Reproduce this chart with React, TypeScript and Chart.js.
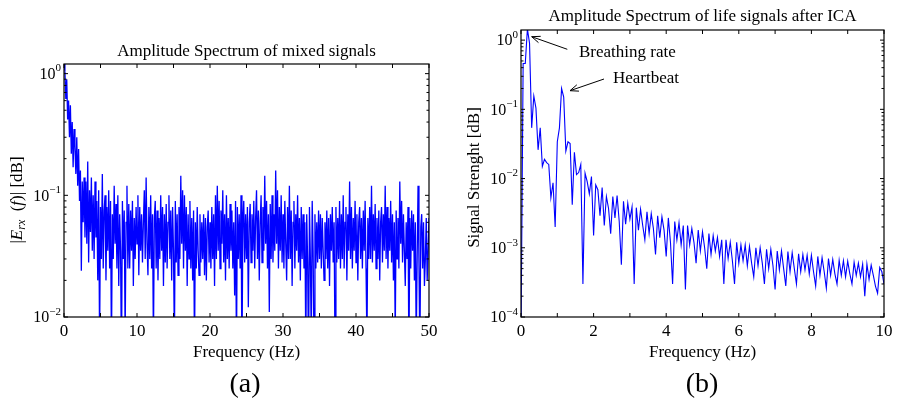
import React, { useEffect, useRef } from "react";
import { Chart, registerables } from "chart.js";

Chart.register(...registerables);

const FONT = '"Liberation Serif", "Times New Roman", Times, serif';

// ---------------- Panel (a): mixed signals, 0..50 Hz ----------------
const mixedStepHz = 0.125;
const mixedAmplitude: number[] = [
  1.2, 1.05, 0.62, 0.9, 0.42, 0.6, 0.3, 0.55,
  0.22, 0.4, 0.17, 0.35, 0.25, 0.15, 0.3, 0.12,
  0.24, 0.09, 0.16, 0.024, 0.13, 0.06, 0.14, 0.045,
  0.13, 0.04, 0.19, 0.028, 0.11, 0.05, 0.14, 0.035,
  0.1, 0.03, 0.13, 0.045, 0.09, 0.02, 0.11, 0.006,
  0.08, 0.03, 0.15, 0.025, 0.075, 0.1, 0.02, 0.08,
  0.035, 0.11, 0.025, 0.09, 0.005, 0.07, 0.03, 0.12,
  0.04, 0.085, 0.025, 0.1, 0.018, 0.07, 0.035, 0.004,
  0.09, 0.03, 0.075, 0.007, 0.06, 0.12, 0.025, 0.085,
  0.025, 0.075, 0.035, 0.09, 0.018, 0.065, 0.03, 0.08,
  0.04, 0.1, 0.022, 0.08, 0.035, 0.07, 0.028, 0.06,
  0.11, 0.03, 0.14, 0.04, 0.022, 0.08, 0.03, 0.1,
  0.025, 0.07, 0.006, 0.065, 0.09, 0.025, 0.075, 0.02,
  0.065, 0.03, 0.1, 0.035, 0.08, 0.018, 0.07, 0.028,
  0.085, 0.025, 0.06, 0.1, 0.03, 0.075, 0.02, 0.08,
  0.035, 0.006, 0.09, 0.028, 0.07, 0.022, 0.08, 0.03,
  0.145, 0.04, 0.11, 0.025, 0.1, 0.035, 0.08, 0.018,
  0.07, 0.03, 0.09, 0.025, 0.065, 0.02, 0.075, 0.005,
  0.06, 0.025, 0.08, 0.035, 0.022, 0.07, 0.028, 0.06,
  0.03, 0.07, 0.022, 0.065, 0.02, 0.055, 0.075, 0.028,
  0.06, 0.025, 0.08, 0.03, 0.07, 0.018, 0.1, 0.03,
  0.12, 0.035, 0.09, 0.025, 0.075, 0.04, 0.11, 0.028,
  0.07, 0.02, 0.1, 0.03, 0.065, 0.025, 0.085, 0.035,
  0.075, 0.025, 0.06, 0.015, 0.09, 0.005, 0.08, 0.03,
  0.07, 0.025, 0.1, 0.004, 0.06, 0.09, 0.028, 0.07,
  0.03, 0.08, 0.012, 0.06, 0.085, 0.028, 0.07, 0.035,
  0.09, 0.025, 0.065, 0.11, 0.03, 0.075, 0.02, 0.06,
  0.1, 0.028, 0.08, 0.035, 0.145, 0.04, 0.09, 0.025,
  0.07, 0.011, 0.085, 0.03, 0.1, 0.028, 0.07, 0.035,
  0.16, 0.04, 0.11, 0.025, 0.08, 0.035, 0.1, 0.028,
  0.07, 0.025, 0.09, 0.04, 0.02, 0.08, 0.03, 0.12,
  0.03, 0.075, 0.018, 0.06, 0.09, 0.025, 0.07, 0.035,
  0.1, 0.028, 0.065, 0.02, 0.08, 0.03, 0.07, 0.025,
  0.06, 0.005, 0.07, 0.028, 0.004, 0.08, 0.03, 0.006,
  0.09, 0.035, 0.005, 0.07, 0.025, 0.06, 0.028, 0.075,
  0.03, 0.07, 0.025, 0.065, 0.035, 0.02, 0.06, 0.03,
  0.075, 0.025, 0.065, 0.018, 0.07, 0.035, 0.08, 0.028,
  0.06, 0.005, 0.08, 0.028, 0.065, 0.03, 0.09, 0.025,
  0.07, 0.03, 0.1, 0.025, 0.06, 0.08, 0.02, 0.07,
  0.035, 0.13, 0.03, 0.08, 0.025, 0.065, 0.035, 0.09,
  0.028, 0.07, 0.02, 0.06, 0.08, 0.03, 0.065, 0.025,
  0.075, 0.035, 0.09, 0.025, 0.006, 0.065, 0.03, 0.08,
  0.03, 0.12, 0.028, 0.07, 0.035, 0.085, 0.025, 0.065,
  0.03, 0.075, 0.02, 0.06, 0.08, 0.028, 0.07, 0.035,
  0.12, 0.03, 0.08, 0.025, 0.065, 0.035, 0.09, 0.028,
  0.07, 0.02, 0.06, 0.007, 0.075, 0.03, 0.065, 0.025,
  0.13, 0.04, 0.09, 0.028, 0.07, 0.035, 0.018, 0.06,
  0.03, 0.08, 0.004, 0.065, 0.025, 0.075, 0.035, 0.07,
  0.02, 0.06, 0.006, 0.03, 0.12, 0.028, 0.005, 0.055,
  0.07, 0.025, 0.06, 0.018, 0.03, 0.065, 0.02, 0.035,
  0.065,
];
const mixedXTicks = [0, 5, 10, 15, 20, 25, 30, 35, 40, 45, 50];
const mixedXLabels = ["0", "10", "20", "30", "40", "50"];
const mixedYDecades = [-2, -1, 0];

// ---------------- Panel (b): life signals after ICA, 0..10 Hz ----------------
const icaStepHz = 1 / 17;
const icaAmplitude: number[] = [
  0.00005, 0.46, 0.46, 1.45, 0.9, 0.054, 0.156, 0.104, 0.026, 0.054,
  0.015, 0.019, 0.017, 0.016, 0.0053, 0.0087, 0.002, 0.034, 0.054, 0.2,
  0.15, 0.025, 0.034, 0.032, 0.0042, 0.024, 0.0114, 0.0122, 0.016, 0.0003,
  0.012, 0.009, 0.006, 0.0107, 0.0015, 0.0081, 0.0069, 0.0029, 0.0074, 0.0021,
  0.0055, 0.0037, 0.0016, 0.0055, 0.0027, 0.0057, 0.0024, 0.00057,
  0.0047, 0.0022, 0.0044, 0.0026, 0.0039, 0.0003, 0.0038, 0.0018, 0.0036, 0.0021,
  0.0013, 0.0033, 0.0016, 0.0031, 0.0019, 0.0008, 0.0029, 0.0014, 0.0028, 0.0018,
  0.00075, 0.0027, 0.0012, 0.0003, 0.0024, 0.0013, 0.0023, 0.0011, 0.0021, 0.00025,
  0.0021, 0.0011, 0.0019, 0.0012, 0.0006, 0.0018, 0.0009, 0.0017, 0.001, 0.0005,
  0.0016, 0.0008, 0.0015, 0.0009, 0.0014, 0.00075, 0.0013, 0.0003, 0.0013, 0.0007,
  0.0012, 0.00065, 0.0003, 0.0012, 0.0006, 0.0011, 0.00065, 0.0011, 0.00055, 0.00105,
  0.0006, 0.00038, 0.001, 0.00055, 0.001, 0.0006, 0.0003, 0.00095, 0.0005, 0.00095,
  0.00055, 0.00025, 0.0009, 0.00048, 0.0009, 0.0005, 0.00028, 0.00088, 0.00045, 0.00085,
  0.0005, 0.0003, 0.00082, 0.00045, 0.0008, 0.00048, 0.00078, 0.00042, 0.00078, 0.00045,
  0.00028, 0.00075, 0.0004, 0.00072, 0.00045, 0.00026, 0.0007, 0.0004, 0.00068, 0.00042,
  0.0003, 0.00066, 0.0004, 0.00065, 0.00038, 0.00064, 0.00042, 0.0003, 0.00062, 0.0004,
  0.0006, 0.00038, 0.00058, 0.0002, 0.00058, 0.00035, 0.00056, 0.0004, 0.00028, 0.00022,
  0.00052, 0.00045, 0.0003,
];
const icaXTicks = [0, 1, 2, 3, 4, 5, 6, 7, 8, 9, 10];
const icaXLabels = ["0", "2", "4", "6", "8", "10"];
const icaYDecades = [-4, -3, -2, -1, 0];

type Seg = { t: string; size: number; italic?: boolean; rise?: number };

function fontOf(s: Seg) {
  return `${s.italic ? "italic " : ""}${s.size}px ${FONT}`;
}

function drawRich(ctx: CanvasRenderingContext2D, segs: Seg[], x: number, y: number, align: "left" | "center" | "right") {
  const widths = segs.map((s) => {
    ctx.font = fontOf(s);
    return ctx.measureText(s.t).width;
  });
  const total = widths.reduce((a, b) => a + b, 0);
  let cx = align === "center" ? x - total / 2 : align === "right" ? x - total : x;
  ctx.textAlign = "left";
  ctx.textBaseline = "alphabetic";
  segs.forEach((s, i) => {
    ctx.font = fontOf(s);
    ctx.fillText(s.t, cx, y - (s.rise || 0));
    cx += widths[i];
  });
}

function drawArrow(ctx: CanvasRenderingContext2D, x1: number, y1: number, x2: number, y2: number) {
  ctx.beginPath();
  ctx.moveTo(x1, y1);
  ctx.lineTo(x2, y2);
  const ang = Math.atan2(y2 - y1, x2 - x1);
  const L = 9;
  const a = 0.38;
  ctx.moveTo(x2, y2);
  ctx.lineTo(x2 - L * Math.cos(ang - a), y2 - L * Math.sin(ang - a));
  ctx.moveTo(x2, y2);
  ctx.lineTo(x2 - L * Math.cos(ang + a), y2 - L * Math.sin(ang + a));
  ctx.stroke();
}

type Note = { text: string; x: number; y: number; ax1: number; ay1: number; ax2: number; ay2: number };

type Spec = {
  xTicks: number[];
  xLabels: string[];
  yDecades: number[];
  title: string;
  titleBaseline: number;
  yLabel: Seg[];
  yLabelX: number;
  yLabelY: number;
  panel: string;
  panelX: number;
  notes: Note[];
};

function makeDecor(spec: Spec) {
  return {
    id: "decor",
    afterDraw(chart: any) {
      const ctx: CanvasRenderingContext2D = chart.ctx;
      const { left, right, top, bottom } = chart.chartArea;
      const xs = chart.scales.x;
      const ys = chart.scales.y;
      ctx.save();
      ctx.strokeStyle = "#000";
      ctx.fillStyle = "#000";

      // frame
      ctx.lineWidth = 1.2;
      ctx.strokeRect(left, top, right - left, bottom - top);
      ctx.lineWidth = 1;

      // x ticks (inside, bottom and top)
      ctx.beginPath();
      spec.xTicks.forEach((t) => {
        const px = xs.getPixelForValue(t);
        ctx.moveTo(px, bottom);
        ctx.lineTo(px, bottom - 4);
        ctx.moveTo(px, top);
        ctx.lineTo(px, top + 4);
      });
      // y ticks (log, major+minor, left and right)
      const yMin = ys.min;
      const yMax = ys.max;
      spec.yDecades.forEach((d) => {
        for (let k = 1; k <= 9; k++) {
          const v = k * Math.pow(10, d);
          if (v < yMin * 0.999 || v > yMax * 1.001) continue;
          const py = ys.getPixelForValue(v);
          const len = k === 1 ? 4 : 2.5;
          ctx.moveTo(left, py);
          ctx.lineTo(left + len, py);
          ctx.moveTo(right, py);
          ctx.lineTo(right - len, py);
        }
      });
      ctx.stroke();

      // x tick labels
      spec.xLabels.forEach((lab) => {
        const px = xs.getPixelForValue(Number(lab));
        drawRich(ctx, [{ t: lab, size: 17 }], px, bottom + 19, "center");
      });
      // y tick labels 10^d
      spec.yDecades.forEach((d) => {
        const py = ys.getPixelForValue(Math.pow(10, d));
        const exp = d < 0 ? "\u2212" + String(-d) : String(d);
        drawRich(
          ctx,
          [
            { t: "10", size: 16 },
            { t: exp, size: 11, rise: 7.5 },
          ],
          left - 3,
          py + 5.3,
          "right"
        );
      });

      // title
      drawRich(ctx, [{ t: spec.title, size: 17 }], (left + right) / 2, spec.titleBaseline, "center");
      // x axis label
      drawRich(ctx, [{ t: "Frequency (Hz)", size: 17 }], (left + right) / 2, bottom + 40, "center");
      // y axis label
      ctx.save();
      ctx.translate(spec.yLabelX, spec.yLabelY);
      ctx.rotate(-Math.PI / 2);
      drawRich(ctx, spec.yLabel, 0, 0, "center");
      ctx.restore();
      // panel label
      drawRich(ctx, [{ t: spec.panel, size: 28 }], spec.panelX, 392, "center");

      // annotations
      spec.notes.forEach((n) => {
        drawRich(ctx, [{ t: n.text, size: 17 }], n.x, n.y, "left");
        drawArrow(ctx, n.ax1, n.ay1, n.ax2, n.ay2);
      });
      ctx.restore();
    },
  };
}

function buildChart(
  canvas: HTMLCanvasElement,
  values: number[],
  step: number,
  xMax: number,
  yMin: number,
  yMax: number,
  padding: { left: number; top: number; right: number; bottom: number },
  lineWidth: number,
  spec: Spec
) {
  return new Chart(canvas, {
    type: "line",
    data: {
      datasets: [
        {
          data: values.map((v, i) => ({ x: i * step, y: v })),
          borderColor: "#0000ff",
          borderWidth: lineWidth,
          pointRadius: 0,
          tension: 0,
          fill: false,
        },
      ],
    },
    options: {
      responsive: false,
      animation: false,
      devicePixelRatio: 1,
      events: [],
      layout: { padding },
      scales: {
        x: { type: "linear", display: false, min: 0, max: xMax },
        y: { type: "logarithmic", display: false, min: yMin, max: yMax },
      },
      plugins: {
        legend: { display: false },
        tooltip: { enabled: false },
        title: { display: false },
      },
    } as any,
    plugins: [makeDecor(spec)],
  });
}

export default function App() {
  const refA = useRef<HTMLCanvasElement | null>(null);
  const refB = useRef<HTMLCanvasElement | null>(null);

  useEffect(() => {
    if (!refA.current || !refB.current) return;
    const chartA = buildChart(
      refA.current,
      mixedAmplitude,
      mixedStepHz,
      50,
      0.01,
      1.2,
      { left: 64, top: 64, right: 19, bottom: 81 },
      1.3,
      {
        xTicks: mixedXTicks,
        xLabels: mixedXLabels,
        yDecades: mixedYDecades,
        title: "Amplitude Spectrum of mixed signals",
        titleBaseline: 56,
        yLabel: [
          { t: "|", size: 17 },
          { t: "E", size: 17, italic: true },
          { t: "rx", size: 12, italic: true, rise: -3 },
          { t: "  (", size: 17 },
          { t: "f", size: 17, italic: true },
          { t: ")| [dB]", size: 17 },
        ],
        yLabelX: 22,
        yLabelY: 200,
        panel: "(a)",
        panelX: 245,
        notes: [],
      }
    );
    const chartB = buildChart(
      refB.current,
      icaAmplitude,
      icaStepHz,
      10,
      0.0001,
      1.4,
      { left: 73, top: 30, right: 13, bottom: 81 },
      1.1,
      {
        xTicks: icaXTicks,
        xLabels: icaXLabels,
        yDecades: icaYDecades,
        title: "Amplitude Spectrum of life signals after ICA",
        titleBaseline: 21,
        yLabel: [{ t: "Signal Strenght [dB]", size: 17 }],
        yLabelX: 31,
        yLabelY: 177.5,
        panel: "(b)",
        panelX: 254,
        notes: [
          { text: "Breathing rate", x: 131, y: 57.3, ax1: 119.3, ay1: 49.3, ax2: 83.7, ay2: 36.7 },
          { text: "Heartbeat", x: 165, y: 83.3, ax1: 156, ay1: 79, ax2: 122, ay2: 90.7 },
        ],
      }
    );
    return () => {
      chartA.destroy();
      chartB.destroy();
    };
  }, []);

  return (
    <div style={{ position: "fixed", left: 0, top: 0, width: 897, height: 398, background: "#fff" }}>
      <canvas
        ref={refA}
        width={448}
        height={398}
        style={{ position: "absolute", left: 0, top: 0, width: 448, height: 398 }}
      />
      <canvas
        ref={refB}
        width={449}
        height={398}
        style={{ position: "absolute", left: 448, top: 0, width: 449, height: 398 }}
      />
    </div>
  );
}
